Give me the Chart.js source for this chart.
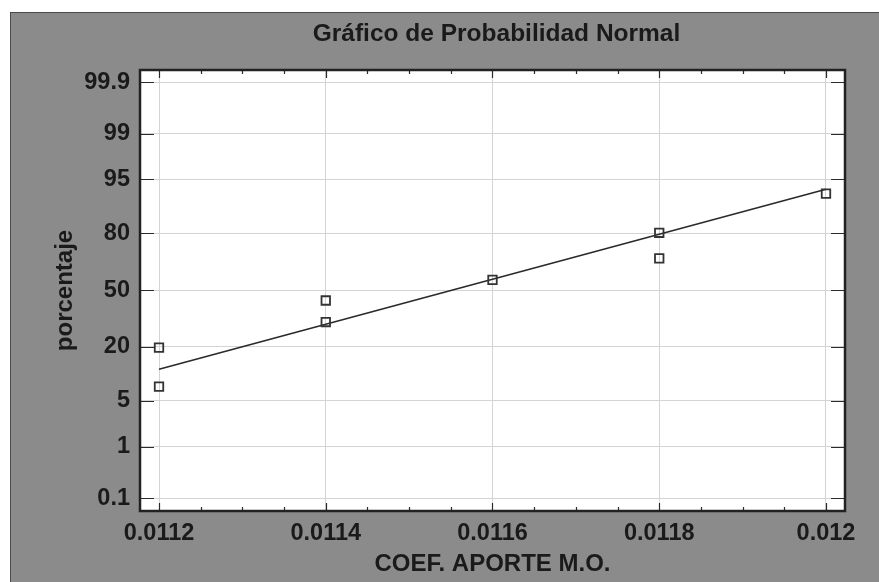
<!DOCTYPE html>
<html>
<head>
<meta charset="utf-8">
<script src="https://cdn.jsdelivr.net/npm/chart.js@4"></script>
<style>
    body { margin: 0; background: #fff; }
    canvas { display: block; }
</style>
</head>
<body>
<canvas id="prob-chart" width="879" height="582"></canvas>
<script>
// data
const coefValues = [0.0112, 0.0112, 0.0114, 0.0114, 0.0116, 0.0118, 0.0118, 0.012];
const percentValues = [7.6, 19.7, 31.8, 43.9, 56.1, 68.2, 80.3, 92.4];
// fitted normal line, ends
const lineCoef = [0.0112, 0.012];
const linePercent = [12.0, 93.3];

const xTicks = [0.0112, 0.0114, 0.0116, 0.0118, 0.012];
const yTickLabels = ['0.1', '1', '5', '20', '50', '80', '95', '99', '99.9'];

// inverse normal cdf (Acklam), percent -> z
function probit(p) {
    const a = [-39.69683028665376, 220.9460984245205, -275.9285104469687, 138.357751867269, -30.66479806614716, 2.506628277459239];
    const b = [-54.47609879822406, 161.5858368580409, -155.6989798598866, 66.80131188771972, -13.28068155288572];
    const c = [-0.007784894002430293, -0.3223964580411365, -2.400758277161838, -2.549732539343734, 4.374664141464968, 2.938163982698783];
    const d = [0.007784695709041462, 0.3224671290700398, 2.445134137142996, 3.754408661907416];
    const pl = 0.02425;
    let q, r;
    if (p < pl) {
        q = Math.sqrt(-2 * Math.log(p));
        return (((((c[0]*q+c[1])*q+c[2])*q+c[3])*q+c[4])*q+c[5]) / ((((d[0]*q+d[1])*q+d[2])*q+d[3])*q+1);
    }
    if (p > 1 - pl) {
        q = Math.sqrt(-2 * Math.log(1 - p));
        return -(((((c[0]*q+c[1])*q+c[2])*q+c[3])*q+c[4])*q+c[5]) / ((((d[0]*q+d[1])*q+d[2])*q+d[3])*q+1);
    }
    q = p - 0.5;
    r = q * q;
    return (((((a[0]*r+a[1])*r+a[2])*r+a[3])*r+a[4])*r+a[5])*q / (((((b[0]*r+b[1])*r+b[2])*r+b[3])*r+b[4])*r+1);
}
const z = pct => probit(pct / 100);

const TEXT = '#1a1a1a';
const FONT = 'Liberation Sans, Arial, sans-serif';

// backgrounds, frame, inward ticks, title
const framePlugin = {
    id: 'frame',
    beforeDraw(chart) {
        const { ctx, chartArea: a } = chart;
        ctx.save();
        ctx.fillStyle = '#fff';
        ctx.fillRect(0, 0, chart.width, chart.height);
        ctx.fillStyle = '#8b8b8b';
        ctx.fillRect(10, 12, chart.width - 10, chart.height - 12);
        ctx.strokeStyle = '#4a4a4a';
        ctx.lineWidth = 1;
        ctx.strokeRect(10.5, 12.5, chart.width, chart.height);
        ctx.fillStyle = '#fff';
        ctx.fillRect(a.left, a.top, a.right - a.left, a.bottom - a.top);
        ctx.restore();
    },
    afterDraw(chart) {
        const { ctx, chartArea: a, scales } = chart;
        ctx.save();
        ctx.strokeStyle = '#2a2a2a';
        ctx.lineWidth = 1.2;
        // x ticks top and bottom, minor every 0.00005
        for (let k = -1; k <= 17; k++) {
            const v = 0.0112 + k * 0.00005;
            if (v < scales.x.min || v > scales.x.max) continue;
            const px = Math.round(scales.x.getPixelForValue(v)) + 0.5;
            const len = (k % 4 === 0) ? 8 : 4;
            ctx.beginPath();
            ctx.moveTo(px, a.bottom); ctx.lineTo(px, a.bottom - len);
            ctx.moveTo(px, a.top); ctx.lineTo(px, a.top + len);
            ctx.stroke();
        }
        // y ticks left and right
        yTickLabels.forEach(l => {
            const py = Math.round(scales.y.getPixelForValue(z(parseFloat(l)))) + 0.5;
            ctx.beginPath();
            ctx.moveTo(a.left, py); ctx.lineTo(a.left + 14, py);
            ctx.moveTo(a.right, py); ctx.lineTo(a.right - 14, py);
            ctx.stroke();
        });
        // frame
        ctx.lineWidth = 2.5;
        ctx.strokeStyle = '#222';
        ctx.strokeRect(a.left, a.top, a.right - a.left, a.bottom - a.top);
        // title
        ctx.fillStyle = TEXT;
        ctx.font = 'bold 24.5px ' + FONT;
        ctx.textAlign = 'center';
        ctx.textBaseline = 'middle';
        ctx.fillText('Gráfico de Probabilidad Normal', (a.left + a.right) / 2 + 4, 34);
        ctx.restore();
    }
};

const ctx = document.getElementById('prob-chart');
new Chart(ctx, {
    type: 'scatter',
    data: {
        datasets: [
            {
                label: 'datos',
                data: coefValues.map((c, i) => ({ x: c, y: z(percentValues[i]) })),
                pointStyle: 'rect',
                pointRadius: 6,
                pointBorderWidth: 1.8,
                borderColor: '#333',
                backgroundColor: 'rgba(255,255,255,0)',
                showLine: false
            },
            {
                label: 'ajuste',
                data: lineCoef.map((c, i) => ({ x: c, y: z(linePercent[i]) })),
                showLine: true,
                pointRadius: 0,
                borderColor: '#2a2a2a',
                borderWidth: 1.6
            }
        ]
    },
    options: {
        responsive: false,
        animation: false,
        layout: { padding: { top: 70, right: 34, left: 0, bottom: 0 } },
        plugins: {
            legend: { display: false },
            tooltip: { enabled: false }
        },
        scales: {
            x: {
                type: 'linear',
                min: 0.0111772,
                max: 0.0120228,
                afterBuildTicks: s => { s.ticks = xTicks.map(v => ({ value: v })); },
                afterFit: s => { s.height = 71; },
                grid: { color: '#d4d4d4', drawTicks: false },
                border: { display: false },
                ticks: {
                    autoSkip: false,
                    maxRotation: 0,
                    padding: 8,
                    color: TEXT,
                    font: { family: FONT, size: 23.5, weight: 'bold' },
                    callback: v => parseFloat(v.toFixed(4)).toString()
                },
                title: {
                    display: true,
                    text: 'COEF. APORTE M.O.',
                    color: TEXT,
                    font: { family: FONT, size: 24, weight: 'bold' },
                    padding: { top: 0, bottom: 3 }
                }
            },
            y: {
                type: 'linear',
                min: -3.28,
                max: 3.27,
                afterBuildTicks: s => { s.ticks = yTickLabels.map(l => ({ value: z(parseFloat(l)) })); },
                afterFit: s => { s.width = 140; },
                grid: { color: '#d4d4d4', drawTicks: false },
                border: { display: false },
                ticks: {
                    autoSkip: false,
                    padding: 10,
                    color: TEXT,
                    font: { family: FONT, size: 23.5, weight: 'bold' },
                    callback: (v, i) => yTickLabels[i]
                },
                title: {
                    display: true,
                    text: 'porcentaje',
                    color: TEXT,
                    font: { family: FONT, size: 24, weight: 'bold' },
                    padding: { top: 51, bottom: 0 }
                }
            }
        }
    },
    plugins: [framePlugin]
});
</script>
</body>
</html>
